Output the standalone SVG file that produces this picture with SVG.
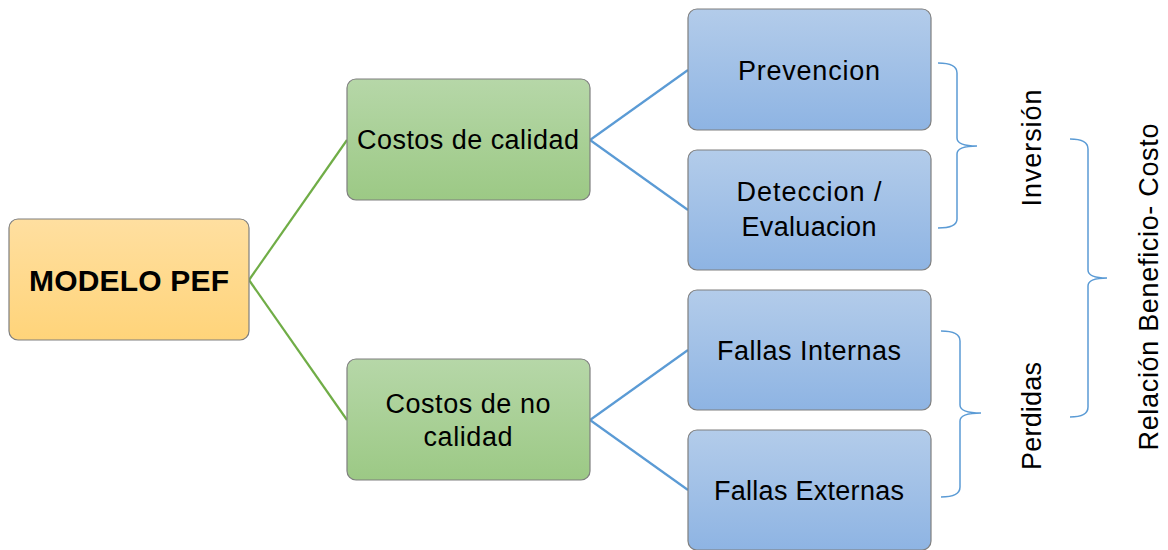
<svg xmlns="http://www.w3.org/2000/svg" width="1168" height="550" viewBox="0 0 1168 550">
<defs>
<linearGradient id="gO" x1="0" y1="0" x2="0" y2="1"><stop offset="0" stop-color="#FFDFA0"/><stop offset="1" stop-color="#FFD47A"/></linearGradient>
<linearGradient id="gG" x1="0" y1="0" x2="0" y2="1"><stop offset="0" stop-color="#B6D7A8"/><stop offset="1" stop-color="#9CC985"/></linearGradient>
<linearGradient id="gB" x1="0" y1="0" x2="0" y2="1"><stop offset="0" stop-color="#B3CCEA"/><stop offset="1" stop-color="#8EB4E3"/></linearGradient>
</defs>
<style>
.box{stroke:#7F7F7F;stroke-width:1.2}
.t{font-family:"Liberation Sans",Arial,sans-serif;font-size:27px;fill:#000;text-anchor:middle}
.b{font-weight:bold;font-size:30px}
.cg{stroke:#70AD47;stroke-width:2.2;fill:none}
.cb{stroke:#5B9BD5;stroke-width:2.2;fill:none}
.br{stroke:#5B9BD5;stroke-width:1.5;fill:none}
</style>
<rect width="1168" height="550" fill="#fff"/>
<g id="connectors">
<line class="cg" x1="249" y1="280" x2="347" y2="140"/>
<line class="cg" x1="249" y1="280" x2="347" y2="420"/>
<line class="cb" x1="590" y1="140" x2="688" y2="70"/>
<line class="cb" x1="590" y1="140" x2="688" y2="210"/>
<line class="cb" x1="590" y1="420" x2="688" y2="350"/>
<line class="cb" x1="590" y1="420" x2="688" y2="490"/>
</g>
<g id="modelo">
<rect class="box" x="9" y="219" width="240" height="121" rx="9" fill="url(#gO)"/>
<text class="t b" x="129" y="291" textLength="200">MODELO PEF</text>
</g>
<g id="costos-calidad">
<rect class="box" x="347" y="79" width="243" height="121" rx="9" fill="url(#gG)"/>
<text class="t" x="468" y="149" textLength="222">Costos de calidad</text>
</g>
<g id="costos-no-calidad">
<rect class="box" x="347" y="359" width="243" height="121" rx="9" fill="url(#gG)"/>
<text class="t" x="468" y="413" textLength="165">Costos de no</text>
<text class="t" x="468" y="446" textLength="89">calidad</text>
</g>
<g id="prevencion">
<rect class="box" x="688" y="9" width="243" height="121" rx="9" fill="url(#gB)"/>
<text class="t" x="809" y="80" textLength="142">Prevencion</text>
</g>
<g id="deteccion">
<rect class="box" x="688" y="150" width="243" height="120" rx="9" fill="url(#gB)"/>
<text class="t" x="809" y="201" textLength="145">Deteccion /</text>
<text class="t" x="809" y="236" textLength="135">Evaluacion</text>
</g>
<g id="fallas-internas">
<rect class="box" x="688" y="290" width="243" height="120" rx="9" fill="url(#gB)"/>
<text class="t" x="809" y="360" textLength="184">Fallas Internas</text>
</g>
<g id="fallas-externas">
<rect class="box" x="688" y="430" width="243" height="120" rx="9" fill="url(#gB)"/>
<text class="t" x="809" y="500" textLength="190">Fallas Externas</text>
</g>
<g id="braces">
<path class="br" d="M938,63 Q957,63 957,73 L957,138 Q957,146 977,146 Q957,146 957,154 L957,219 Q957,228 938,228"/>
<path class="br" d="M941,331 Q960,331 960,341 L960,405 Q960,413 981,413 Q960,413 960,421 L960,487 Q960,497 941,497"/>
<path class="br" d="M1070,139 Q1088,139 1088,149 L1088,270 Q1088,278 1107,278 Q1088,278 1088,286 L1088,407 Q1088,417 1070,417"/>
</g>
<g id="labels">
<text class="t" transform="translate(1041,148) rotate(-90)" textLength="117">Inversión</text>
<text class="t" transform="translate(1041,416) rotate(-90)" textLength="108">Perdidas</text>
<text class="t" transform="translate(1158,287) rotate(-90)" textLength="327">Relación Beneficio- Costo</text>
</g>
</svg>
